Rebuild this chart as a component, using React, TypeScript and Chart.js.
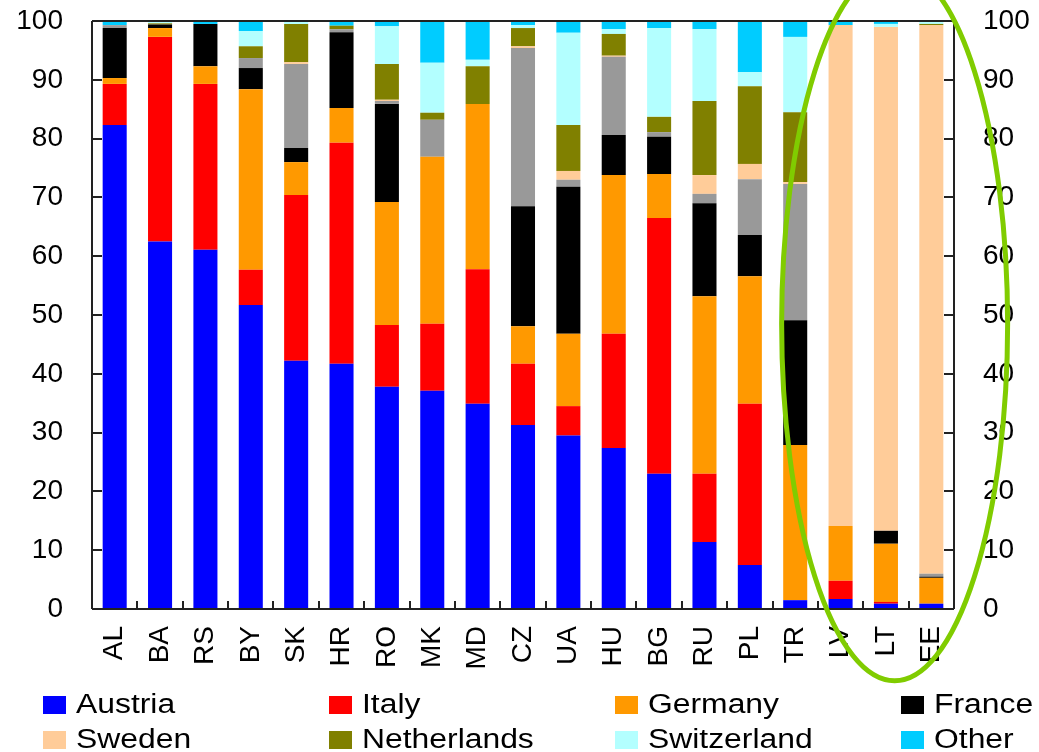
import React, { useEffect, useRef } from 'react';
import { Chart, registerables } from 'chart.js';

Chart.register(...registerables);

const categories = ['AL', 'BA', 'RS', 'BY', 'SK', 'HR', 'RO', 'MK', 'MD', 'CZ', 'UA', 'HU', 'BG', 'RU', 'PL', 'TR', 'LV', 'LT', 'EE'];

const austria = [82.3, 62.5, 61.1, 51.7, 42.2, 41.7, 37.8, 37.1, 34.9, 31.3, 29.5, 27.4, 23.0, 11.4, 7.5, 1.5, 1.7, 0.9, 0.9];
const italy = [7.0, 34.8, 28.2, 6.0, 28.2, 37.6, 10.5, 11.4, 22.9, 10.4, 5.0, 19.4, 43.5, 11.6, 27.4, 0, 3.1, 0.3, 0];
const germany = [1.0, 1.5, 3.0, 30.7, 5.6, 5.9, 20.9, 28.4, 28.1, 6.4, 12.3, 27.0, 7.5, 30.2, 21.7, 26.4, 9.3, 9.9, 4.4];
const france = [8.5, 0.6, 7.2, 3.6, 2.4, 12.9, 16.7, 0, 0, 20.4, 25.0, 6.8, 6.3, 15.8, 7.0, 21.2, 0, 2.2, 0.2];
const unlabelled = [0.5, 0, 0, 1.7, 14.3, 0.5, 0.5, 6.3, 0, 26.9, 1.2, 13.3, 0.8, 1.6, 9.5, 23.2, 0, 0, 0.5];
const sweden = [0, 0, 0, 0, 0.3, 0, 0.2, 0, 0, 0.3, 1.5, 0.2, 0, 3.2, 2.6, 0.3, 85.2, 85.7, 93.3];
const netherlands = [0, 0.2, 0, 2.0, 6.5, 0.6, 6.1, 1.2, 6.4, 3.1, 7.8, 3.7, 2.6, 12.6, 13.2, 11.9, 0, 0, 0.2];
const switzerland = [0, 0.4, 0, 2.6, 0.5, 0, 6.4, 8.5, 1.1, 0.5, 15.7, 0.8, 15.1, 12.2, 2.4, 12.8, 0, 0.5, 0.5];
const other = [0.7, 0, 0.5, 1.7, 0, 0.8, 0.9, 7.1, 6.6, 0.7, 2.0, 1.4, 1.2, 1.4, 8.7, 2.7, 0.7, 0.5, 0];

const yTicks = [0, 10, 20, 30, 40, 50, 60, 70, 80, 90, 100];

const seriesNames = ['Austria', 'Italy', 'Germany', 'France', '', 'Sweden', 'Netherlands', 'Switzerland', 'Other'];
const seriesValues = [austria, italy, germany, france, unlabelled, sweden, netherlands, switzerland, other];
const seriesColors = ['#0000FF', '#FF0000', '#FF9900', '#000000', '#999999', '#FFCC99', '#808000', '#B3FFFF', '#00CCFF'];

const legendOrder = ['Austria', 'Italy', 'Germany', 'France', 'Sweden', 'Netherlands', 'Switzerland', 'Other'];

const FONT = '"Liberation Sans", Arial, sans-serif';

const framePlugin = {
  id: 'frame',
  afterDatasetsDraw(chart: any) {
    const { ctx, chartArea: a, scales } = chart;
    const y = scales.y;
    const x = scales.x;
    ctx.save();
    ctx.strokeStyle = '#222';
    ctx.lineWidth = 2;
    ctx.beginPath();
    ctx.moveTo(a.left, a.top);
    ctx.lineTo(a.right, a.top);
    ctx.moveTo(a.left, a.top);
    ctx.lineTo(a.left, a.bottom);
    ctx.moveTo(a.right, a.top);
    ctx.lineTo(a.right, a.bottom);
    ctx.moveTo(a.left, a.bottom);
    ctx.lineTo(a.right, a.bottom);
    yTicks.forEach((v) => {
      const py = Math.round(y.getPixelForValue(v));
      ctx.moveTo(a.left, py);
      ctx.lineTo(a.left + 10, py);
      ctx.moveTo(a.right, py);
      ctx.lineTo(a.right - 10, py);
    });
    const n = categories.length;
    const step = (a.right - a.left) / n;
    for (let i = 1; i < n; i++) {
      const px = Math.round(x.getPixelForValue(i - 1) + step / 2);
      ctx.moveTo(px, a.bottom);
      ctx.lineTo(px, a.bottom - 8);
    }
    ctx.stroke();
    ctx.restore();
  },
};

const legendPlugin = {
  id: 'customLegend',
  afterDraw(chart: any) {
    const { ctx } = chart;
    ctx.save();
    ctx.font = `27px ${FONT}`;
    ctx.textBaseline = 'middle';
    ctx.fillStyle = '#000';
    legendOrder.forEach((name, i) => {
      const idx = seriesNames.indexOf(name);
      const col = i % 4;
      const row = Math.floor(i / 4);
      const bx = 43 + col * 286;
      const cy = 705 + row * 35;
      ctx.fillStyle = seriesColors[idx];
      ctx.fillRect(bx, cy - 9, 23, 18);
      ctx.fillStyle = '#000';
      ctx.save();
      ctx.translate(bx + 33, cy + 1);
      ctx.scale(1.18, 1);
      ctx.fillText(name, 0, 0);
      ctx.restore();
    });
    ctx.restore();
  },
};

const ellipsePlugin = {
  id: 'highlightEllipse',
  afterDraw(chart: any) {
    const { ctx, scales } = chart;
    const x = scales.x;
    const y = scales.y;
    const cx = (x.getPixelForValue(categories.indexOf('LT')) + x.getPixelForValue(categories.indexOf('EE'))) / 2 - 14;
    const cy = y.getPixelForValue(48.5);
    ctx.save();
    ctx.strokeStyle = '#80CC00';
    ctx.lineWidth = 5;
    ctx.beginPath();
    ctx.ellipse(cx, cy, 113, 357, 0, 0, Math.PI * 2);
    ctx.stroke();
    ctx.restore();
  },
};

const fitVertical = (w: number) => (s: any) => {
  s.width = w;
  s.paddingTop = 0;
  s.paddingBottom = 0;
};

export default function App() {
  const ref = useRef<HTMLCanvasElement>(null);

  useEffect(() => {
    document.body.style.margin = '0';
    const canvas = ref.current;
    if (!canvas) return;
    const chart = new Chart(canvas, {
      type: 'bar',
      data: {
        labels: categories,
        datasets: seriesValues.map((vals, i) => ({
          label: seriesNames[i] || 'Unlabelled',
          data: vals,
          backgroundColor: seriesColors[i],
          borderWidth: 0,
          categoryPercentage: 1,
          barPercentage: 0.53,
        })),
      },
      options: {
        responsive: false,
        animation: false,
        layout: { padding: { top: 21, left: 0, right: 0, bottom: 0 } },
        plugins: {
          legend: { display: false },
          tooltip: { enabled: false },
        },
        scales: {
          x: {
            stacked: true,
            grid: { display: false, drawTicks: false },
            border: { display: false },
            ticks: {
              color: '#000',
              font: { family: FONT, size: 28 },
              maxRotation: 90,
              minRotation: 90,
              padding: 17,
              autoSkip: false,
            },
            afterFit: (s: any) => {
              s.height = 143;
              s.paddingLeft = 0;
              s.paddingRight = 0;
            },
          },
          y: {
            stacked: true,
            position: 'left',
            min: 0,
            max: 100,
            grid: { display: false, drawTicks: false },
            border: { display: false },
            ticks: {
              stepSize: 10,
              color: '#000',
              font: { family: FONT, size: 28 },
              padding: 29,
            },
            afterFit: fitVertical(92),
          },
          y2: {
            position: 'right',
            min: 0,
            max: 100,
            grid: { display: false, drawTicks: false },
            border: { display: false },
            ticks: {
              stepSize: 10,
              color: '#000',
              font: { family: FONT, size: 28 },
              padding: 29,
            },
            afterFit: fitVertical(85),
          },
        },
      },
      plugins: [framePlugin, legendPlugin, ellipsePlugin],
    });
    return () => chart.destroy();
  }, []);

  return (
    <div style={{ width: 1039, height: 752, overflow: 'hidden' }}>
      <canvas ref={ref} width={1039} height={752} style={{ display: 'block' }} />
    </div>
  );
}
